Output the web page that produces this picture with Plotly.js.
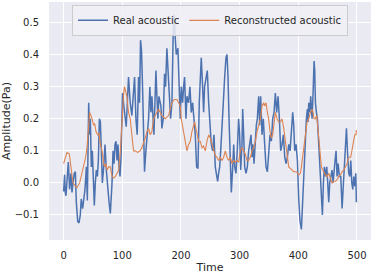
<!DOCTYPE html>
<html>
<head>
<meta charset="utf-8">
<script src="https://cdn.plot.ly/plotly-3.0.1.min.js"></script>
<style>html,body{margin:0;padding:0;background:#fff;}#chart{width:374px;height:276px;}</style>
</head>
<body>
<div id="chart"></div>
<script>
// Real acoustic (blue) — time / amplitude
const realTime = [0,1.7,2.8,4,8,10.2,12.5,14.2,16,18.2,20,21.6,24,26.2,28.4,30,32.4,34,36.4,38.7,40.4,42.7,44.4,45.5,47.2,48.9,50.6,52.3,54,55.7,57.5,59.2,60.9,62.6,64.3,66,68.3,70.5,72.8,75,77.4,79.6,82.5,84.2,85.9,87.6,89.3,91,92.7,94.4,96.1,97.8,100.4,103.8,106.7,110.6,113.5,116.3,119.2,120.9,123.2,125.4,127.7,129.4,131.1,132.8,134.5,136.2,137.9,140.2,142.5,144.8,147,148.8,150.5,152.2,153.9,155.6,157.3,159,160.7,162.4,164.1,165.8,167.5,169.8,172,173.8,176,177.8,180,182.3,184.6,186.9,188.6,190.3,192,194.8,197,198.8,200.5,202.8,204.5,206.2,208.5,210.2,213,215.3,217.6,219.9,222.1,224.4,226.7,229,231.2,232.9,234.6,236.9,238.6,240.3,242.6,244.9,247.2,249.4,251.7,254,256.3,258.5,260.8,262.5,264.2,266,267.7,269.9,272.2,274.5,276.7,278.5,280.2,281.9,284.2,285.9,288.2,289.9,291.6,293.8,296,298.3,300,301.8,304,305.2,306.9,308.6,310.9,313.1,315.4,317.7,319.4,321.1,322.8,324.5,326.8,328.5,330.2,332.5,334.2,335.9,338.2,340.4,342.7,345,347.3,349.5,351.8,354.1,356.4,358.7,360.9,363.2,365.5,367.8,370,372.3,374.6,376.9,379.1,381.4,383.7,386,388.2,390.5,392.2,393.9,396.2,398.5,400.7,403,405.3,407,408.7,410.4,412.1,413.8,415.5,416.7,417.8,419.5,421.2,423.5,425.2,426.9,428,429.2,430.9,432.6,434.9,437.2,439.4,441.1,442.8,444.5,446.2,448.5,450.2,451.9,453.6,455.3,457.6,459.3,461,462.7,464.4,466.1,467.9,470.1,472.4,474.7,476.4,478.1,480.4,482.1,483.8,486,487.8,489.5,491.2,492.9,494.6,496.3,498,499];
const realAmp = [-0.027,0.025,-0.03,-0.04,0.065,-0.02,0.03,-0.03,0.0,0.03,0.035,-0.06,-0.12,-0.125,-0.1,-0.05,-0.08,-0.06,-0.02,0.05,-0.055,0.25,0.15,0.2,0.05,0.1,-0.01,-0.07,0.0,0.04,0.02,0.07,0.2,0.19,0.1,0.0,0.05,0.12,0.04,-0.02,-0.06,-0.095,0.0,0.1,0.06,0.12,0.13,0.07,0.12,0.05,0.02,0.08,0.28,0.22,0.175,0.33,0.25,0.21,0.3,0.33,0.2,0.15,0.33,0.25,0.445,0.41,0.3,0.1,0.035,0.1,0.15,0.2,0.3,0.22,0.27,0.2,0.15,0.25,0.35,0.27,0.2,0.27,0.25,0.24,0.17,0.2,0.34,0.3,0.42,0.33,0.28,0.2,0.25,0.48,0.525,0.45,0.4,0.42,0.3,0.2,0.3,0.25,0.3,0.33,0.2,0.27,0.25,0.3,0.22,0.25,0.2,0.15,0.05,0.045,0.25,0.35,0.39,0.3,0.22,0.3,0.33,0.35,0.25,0.2,0.12,0.1,0.15,0.05,0.02,0.005,0.03,0.05,0.1,0.2,0.25,0.33,0.39,0.4,0.33,0.2,0.05,-0.03,0.05,0.12,0.05,0.03,0.1,0.2,0.15,0.04,0.12,0.23,0.15,0.05,0.03,0.05,0.1,0.13,0.15,0.08,0.12,0.06,0.14,0.18,0.2,0.27,0.18,0.27,0.15,0.2,0.12,0.05,0.035,0.1,0.15,0.13,0.2,0.22,0.28,0.22,0.27,0.2,0.1,0.12,0.15,0.08,0.06,0.08,0.12,0.1,0.15,0.22,0.18,0.1,0.12,0.07,-0.05,-0.12,-0.145,-0.08,0.0,0.1,0.15,0.2,0.23,0.19,0.25,0.22,0.27,0.2,0.28,0.38,0.35,0.25,0.22,0.2,0.12,0.05,-0.02,-0.1,0.0,0.05,0.02,0.05,0.0,-0.06,0.0,0.02,0.04,0.0,0.05,0.07,0.1,0.02,0.06,0.02,0.02,-0.08,-0.02,0.05,0.1,0.17,0.1,0.03,0.02,0.07,0.0,-0.02,0.02,-0.01,0.03,-0.06];

// Reconstructed acoustic (orange)
const reconTime = [0,5.7,9.7,12.5,15.9,19.9,22.8,27.3,31.3,34.1,37.5,39.8,42.7,44.4,48.4,51.2,52.9,55.2,58,60.3,62.6,65.4,68.3,70,72.2,73.9,76.8,79.6,82.5,85.3,88.2,91,93.9,96.7,99.5,102.4,103.8,107.8,110.6,113.5,116.3,119.2,122,126,130.6,133.4,139.1,142,144.8,147.6,150.5,153.3,159,161.8,164.7,167.5,173.2,178.9,184.6,188.6,193.1,198.8,200.5,204.5,207.3,210.2,213,215.9,218.7,221.6,223.3,225.5,227.8,230.1,232.9,235.8,238.6,241.4,244.3,247.2,250,252.8,255.7,258.5,261.4,264.2,267.1,269.9,272.8,275.6,278.5,281.3,284.1,287,289.8,292.7,295.5,298.3,301.2,304,306.9,309.7,312.6,315.4,318.3,321.1,324,326.8,329.7,332.5,335.4,338.2,341,342.7,345,347.3,349.5,351.8,354.1,356.4,358.7,360.9,363.8,366.6,369.5,372.3,375.2,378,380.8,383.7,386.5,389.3,392.2,395,397.9,400.7,403.6,405.3,407.3,409.8,412.1,415,417.8,420.7,423.5,425.2,426.9,429.2,431.4,433.1,434.9,437.2,439.4,441.7,444,446.2,449.1,451.9,454.7,457.6,460.4,463.2,466.1,468.9,471.8,474.6,477.5,480.3,483.2,484.9,487.1,489.4,491.7,494,496.2,498.5,499];
const reconAmp = [0.06,0.095,0.09,0.05,0.0,-0.01,-0.015,0.0,0.03,0.06,0.08,0.11,0.2,0.22,0.2,0.18,0.185,0.16,0.15,0.155,0.12,0.1,0.06,0.05,0.06,0.04,0.05,0.05,0.02,0.015,0.02,0.03,0.04,0.1,0.2,0.28,0.3,0.27,0.22,0.2,0.15,0.1,0.1,0.095,0.1,0.11,0.14,0.16,0.17,0.15,0.16,0.2,0.22,0.23,0.22,0.21,0.2,0.21,0.25,0.26,0.26,0.24,0.2,0.16,0.12,0.1,0.12,0.13,0.16,0.18,0.19,0.17,0.15,0.13,0.13,0.11,0.115,0.1,0.13,0.15,0.14,0.12,0.1,0.085,0.08,0.07,0.08,0.07,0.08,0.1,0.08,0.07,0.08,0.06,0.07,0.065,0.07,0.065,0.1,0.11,0.1,0.09,0.07,0.07,0.08,0.1,0.11,0.13,0.16,0.18,0.2,0.24,0.25,0.24,0.25,0.22,0.2,0.16,0.14,0.15,0.2,0.22,0.2,0.19,0.19,0.2,0.17,0.13,0.08,0.05,0.045,0.04,0.035,0.035,0.033,0.025,0.03,0.05,0.08,0.12,0.15,0.19,0.2,0.22,0.23,0.22,0.2,0.2,0.21,0.17,0.13,0.1,0.05,0.04,0.03,0.025,0.02,0.03,0.015,0.0,0.005,0.005,0.01,0.02,0.025,0.035,0.04,0.05,0.06,0.075,0.08,0.08,0.1,0.13,0.15,0.15,0.165];

const xTicks = [0,100,200,300,400,500];
const yTicks = [-0.1,0.0,0.1,0.2,0.3,0.4,0.5];

const font = 'DejaVu Sans, sans-serif';
const data = [
  {x: realTime, y: realAmp, type: 'scatter', mode: 'lines', name: 'Real acoustic',
   line: {color: '#4C72B0', width: 1.5}},
  {x: reconTime, y: reconAmp, type: 'scatter', mode: 'lines', name: 'Reconstructed acoustic',
   line: {color: '#DD8452', width: 1.1}}
];
const layout = {
  width: 374, height: 276,
  margin: {l: 49, r: 3, t: 2, b: 36},
  paper_bgcolor: '#ffffff', plot_bgcolor: '#EAEAF2',
  font: {family: font, size: 10, color: '#262626'},
  showlegend: true,
  legend: {orientation: 'h', x: 0.5, xanchor: 'center', y: 0.988, yanchor: 'top',
           bgcolor: 'rgba(240,240,246,0.85)', bordercolor: '#cccccc', borderwidth: 1,
           font: {family: font, size: 10, color: '#262626'}, itemwidth: 30, tracegroupgap: 0},
  xaxis: {range: [-24.95, 523.95], tickvals: xTicks, ticktext: xTicks.map(String),
          showgrid: true, gridcolor: '#ffffff', gridwidth: 1, zeroline: false, showline: false,
          ticks: 'outside', ticklen: 6, tickcolor: 'rgba(0,0,0,0)',
          title: {text: 'Time', font: {family: font, size: 11, color: '#262626'}, standoff: 3}},
  yaxis: {range: [-0.178, 0.564], tickvals: yTicks, tickformat: '.1f',
          showgrid: true, gridcolor: '#ffffff', gridwidth: 1, zeroline: false, showline: false,
          ticks: 'outside', ticklen: 7, tickcolor: 'rgba(0,0,0,0)',
          title: {text: 'Amplitude(Pa)', font: {family: font, size: 11, color: '#262626'}, standoff: 6}}
};
Plotly.newPlot('chart', data, layout, {displayModeBar: false, staticPlot: true});
</script>
</body>
</html>
